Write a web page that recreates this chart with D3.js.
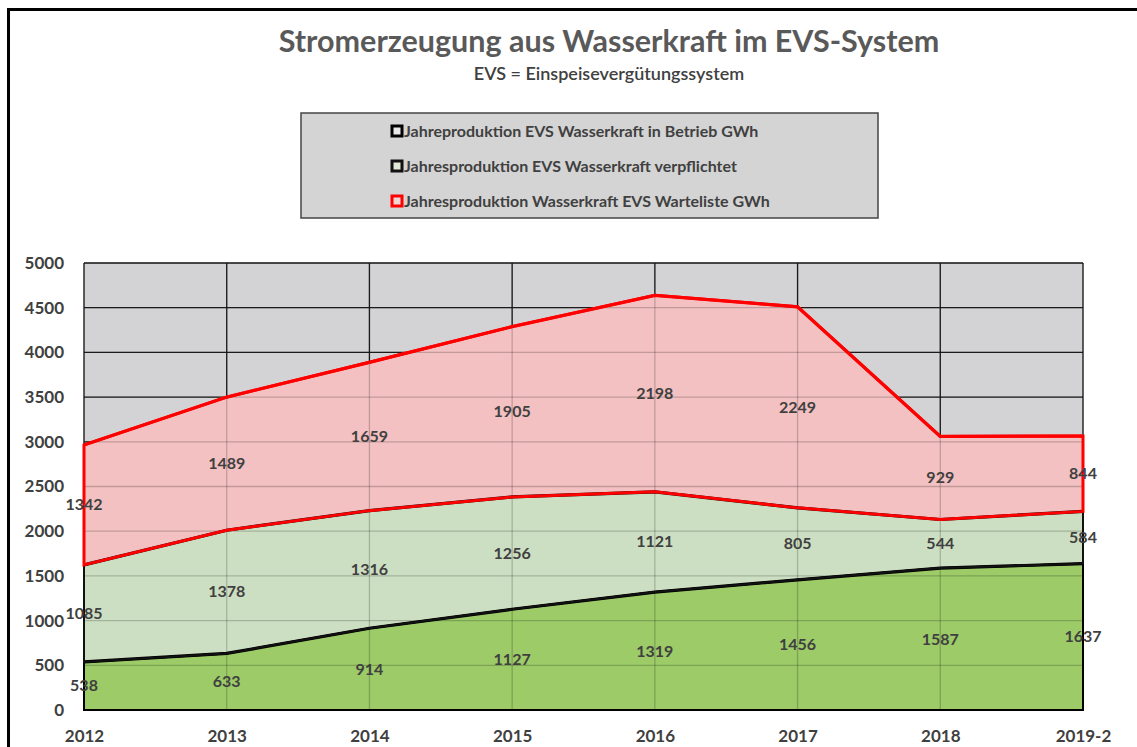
<!DOCTYPE html>
<html><head><meta charset="utf-8">
<script src="https://cdn.jsdelivr.net/npm/d3@7"></script>
<style>body{margin:0;background:#fff}svg{display:block}</style>
</head><body>
<svg id="c" width="1137" height="747"></svg>
<script>
const years = ["2012","2013","2014","2015","2016","2017","2018","2019-2"];
const betrieb = [538,633,914,1127,1319,1456,1587,1637];
const verpflichtet = [1085,1378,1316,1256,1121,805,544,584];
const warteliste = [1342,1489,1659,1905,2198,2249,929,844];
const yTicks = [0,500,1000,1500,2000,2500,3000,3500,4000,4500,5000];
const seriesNames = ["Jahreproduktion EVS Wasserkraft in Betrieb GWh","Jahresproduktion EVS Wasserkraft verpflichtet","Jahresproduktion Wasserkraft EVS Warteliste GWh"];
const fills = ["#9ccb68","#cddfc2","#f3c1c1"];
const strokes = ["#000","#111","#ff0000"];
const markerFill = ["#e8e8e8","#dfe9d6","#f1d6d6"];

const svg = d3.select("#c");
const font = "Lato, 'Open Sans', sans-serif";
const txt = "#404040";

svg.append("path").attr("d","M8.5,760 V9.5 H1150").attr("fill","none").attr("stroke","#000").attr("stroke-width",3);

svg.append("text").attr("x",609).attr("y",52).attr("text-anchor","middle")
  .attr("font-family",font).attr("font-weight",700).attr("font-size",30.5).attr("fill","#595959")
  .text("Stromerzeugung aus Wasserkraft im EVS-System");
svg.append("text").attr("x",609).attr("y",80).attr("text-anchor","middle")
  .attr("font-family",font).attr("font-weight",600).attr("font-size",18).attr("fill",txt)
  .text("EVS = Einspeisevergütungssystem");

const lg = svg.append("g");
lg.append("rect").attr("x",301).attr("y",113).attr("width",577).attr("height",105)
  .attr("fill","#d4d4d4").attr("stroke","#444").attr("stroke-width",1.5);
const ly = d3.scalePoint().domain(seriesNames).range([131,201]);
seriesNames.forEach((n,i)=>{
  const yy = ly(n);
  lg.append("rect").attr("x",392).attr("y",yy-5).attr("width",10).attr("height",10)
    .attr("fill",markerFill[i]).attr("stroke",strokes[i]).attr("stroke-width",3);
  lg.append("text").attr("x",404).attr("y",yy+5.5).attr("font-family",font).attr("font-weight",700)
    .attr("font-size",16).attr("fill",txt).text(n);
});

const x = d3.scalePoint().domain(years).range([84,1083]);
const y = d3.scaleLinear().domain([0,5000]).range([710,263]);

const plot = svg.append("g");
plot.append("rect").attr("x",84).attr("y",263).attr("width",999).attr("height",447).attr("fill","#d3d3d5");

function grid(g, color, op){
  g.selectAll(null).data(yTicks).enter().append("line")
    .attr("x1",84).attr("x2",1083).attr("y1",d=>y(d)).attr("y2",d=>y(d))
    .attr("stroke",color).attr("stroke-opacity",op).attr("stroke-width",1.3);
  g.selectAll(null).data(years).enter().append("line")
    .attr("x1",d=>x(d)).attr("x2",d=>x(d)).attr("y1",263).attr("y2",710)
    .attr("stroke",color).attr("stroke-opacity",op).attr("stroke-width",1.3);
}
grid(plot.append("g"),"#222",1);

const rows = years.map((yr,i)=>({yr, a:betrieb[i], b:verpflichtet[i], c:warteliste[i]}));
const stack = d3.stack().keys(["a","b","c"])(rows);

const area = d3.area().x(d=>x(d.data.yr)).y0(d=>y(d[0])).y1(d=>y(d[1]));
stack.forEach((s,i)=>{
  plot.append("path").datum(s).attr("d",area).attr("fill",fills[i]);
});
grid(plot.append("g"),"#000",0.2);
stack.forEach((s,i)=>{
  plot.append("path").datum(s).attr("d",area).attr("fill","none")
    .attr("stroke",strokes[i]).attr("stroke-width",i===2?3:2).attr("stroke-linejoin","miter");
  plot.append("path").datum(s).attr("d",d3.line().x(d=>x(d.data.yr)).y(d=>y(d[1])))
    .attr("fill","none").attr("stroke",strokes[i]).attr("stroke-width",3.2);
});

stack.forEach((s,i)=>{
  plot.selectAll(null).data(s).enter().append("text")
    .attr("x",d=>x(d.data.yr)).attr("y",d=>y((d[0]+d[1])/2)+5.5).attr("text-anchor","middle")
    .attr("font-family",font).attr("font-weight",700).attr("font-size",16).attr("fill",txt)
    .text(d=>d[1]-d[0]);
});

const ya = svg.append("g").attr("transform","translate(64,0)")
  .call(d3.axisLeft(y).tickValues(yTicks).tickFormat(d3.format("d")).tickSize(0).tickPadding(0));
ya.select(".domain").remove();
ya.selectAll("text").attr("font-family",font).attr("font-weight",700).attr("font-size",17).attr("fill",txt);
const xa = svg.append("g").attr("transform","translate(0,730)")
  .call(d3.axisBottom(x).tickSize(0).tickPadding(0));
xa.select(".domain").remove();
xa.selectAll("text").attr("font-family",font).attr("font-weight",700).attr("font-size",17).attr("fill",txt);
</script>
</body></html>
